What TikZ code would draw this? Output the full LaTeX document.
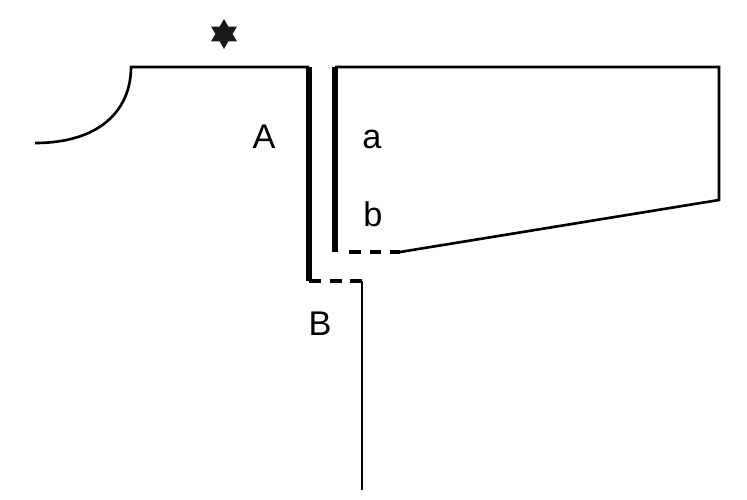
\documentclass[tikz,border=0pt]{standalone}
\usepackage{fontspec}
\setmainfont{Liberation Sans}
\usetikzlibrary{shapes.geometric}

\begin{document}
\begin{tikzpicture}[
    x=0.02cm, y=-0.02cm,
    thin line/.style={line width=1.5pt, line join=miter},
    thick line/.style={line width=3pt},
    fold line/.style={line width=1.8pt, dash pattern=on 6.8pt off 5pt},
    part label/.style={font=\fontsize{19.5}{19.5}\selectfont, inner sep=0pt}
]
    % canvas
    \useasboundingbox (0,0) rectangle (747,500);

    % corner points
    \coordinate (neck) at (35,143);
    \coordinate (top_l) at (131,67);
    \coordinate (fold_A) at (309,67);
    \coordinate (end_A) at (309,281);
    \coordinate (fold_a) at (335,67);
    \coordinate (end_a) at (335,252);
    \coordinate (top_r) at (719,67);
    \coordinate (bot_r) at (719,200);
    \coordinate (edge_b) at (400,252);
    \coordinate (edge_B) at (362,281);
    \coordinate (hem) at (362,490);

    % left piece
    \draw[thin line] (neck) .. controls (100,143) and (131,110) .. (top_l) -- (fold_A);
    \draw[thick line] (fold_A) -- (end_A);
    \draw[fold line] (end_A) -- (edge_B);
    \draw[thin line] (edge_B) -- (hem);

    % right piece
    \draw[thick line] (fold_a) -- (end_a);
    \draw[thin line] (fold_a) -- (top_r) -- (bot_r) -- (edge_b);
    \draw[fold line, dash phase=6.8pt] ([xshift=0.1cm]end_a) -- (edge_b);

    % star mark
    \node[star, star points=6, star point ratio=1.75, fill=black!90, inner sep=0pt,
        minimum size=0.6cm] (mark) at (224,34) {};

    % labels
    \node[part label] (lbl_A) at (264,137) {A};
    \node[part label] (lbl_a) at (372,139) {a};
    \node[part label] (lbl_b) at (373,214) {b};
    \node[part label] (lbl_B) at (320,324) {B};
\end{tikzpicture}
\end{document}
